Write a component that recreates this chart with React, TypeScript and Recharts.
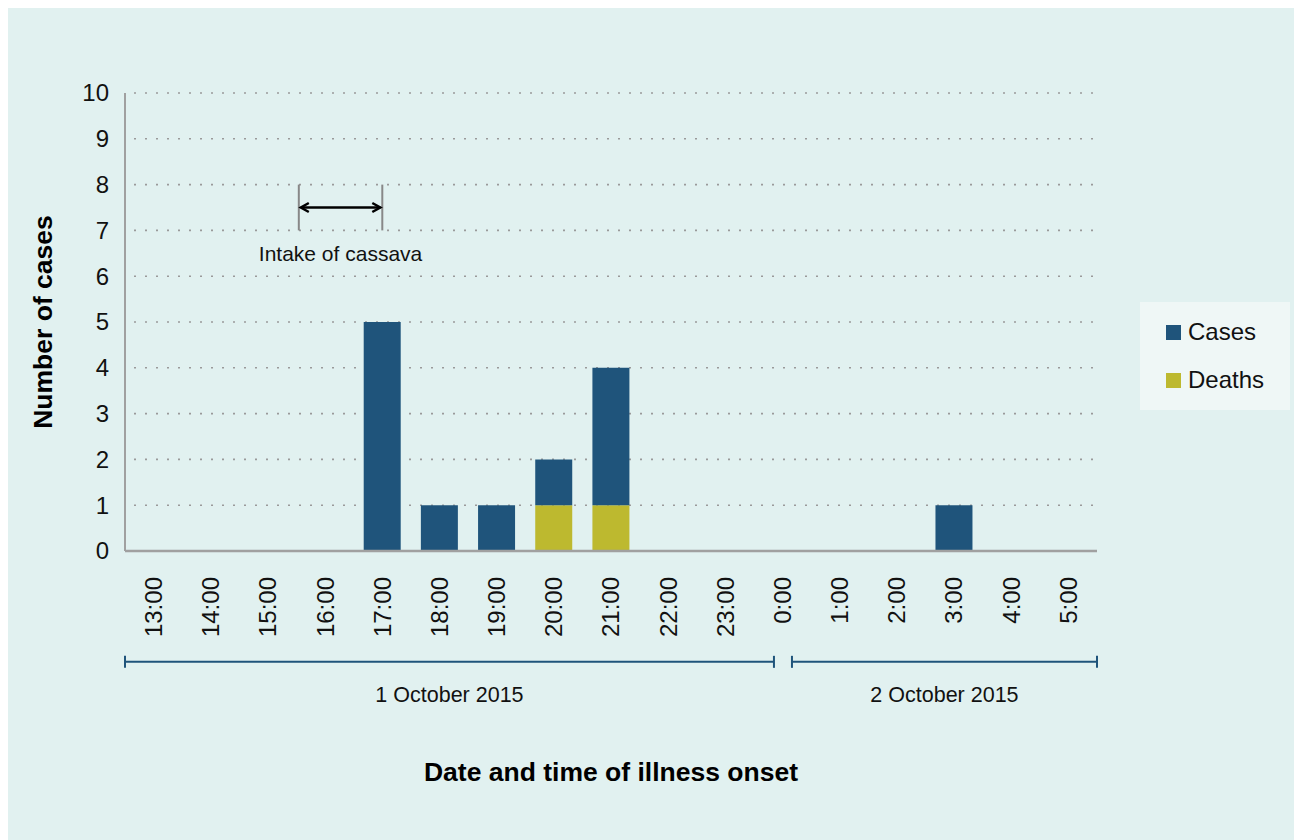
import React from 'react';
import { BarChart, Bar, XAxis, YAxis, CartesianGrid, ReferenceLine, Label } from 'recharts';

// ---- data ----
const hours = ['13:00', '14:00', '15:00', '16:00', '17:00', '18:00', '19:00', '20:00', '21:00', '22:00', '23:00', '0:00', '1:00', '2:00', '3:00', '4:00', '5:00'];
const cases = [0, 0, 0, 0, 5, 1, 1, 2, 4, 0, 0, 0, 0, 0, 1, 0, 0];
const deaths = [0, 0, 0, 0, 0, 0, 0, 1, 1, 0, 0, 0, 0, 0, 0, 0, 0];
const yTicks = [0, 1, 2, 3, 4, 5, 6, 7, 8, 9, 10];

// annotation positions in slot units (x, 0..17 across the hours) and case units (y)
const slotDomain = [0, 17];
const intakeStart = 3.04;
const intakeEnd = 4.5;
const intakeLow = 7;
const intakeHigh = 8;
const intakeArrowY = 7.5;
const intakeLabelY = 6.5;
const intakeLabel = 'Intake of cassava';

const dateLabels = ['1 October 2015', '2 October 2015'];
const dateFrom = [0, 11.665];
const dateTo = [11.35, 17];
const dateLevel = -2.42;

const CASES_COLOR = '#1f547b';
const DEATHS_COLOR = '#bdb92f';
const BG = '#e1f1f0';
const FONT = '"Liberation Sans", Arial, sans-serif';

const data = hours.map((h, i) => ({ hour: h, slot: i + 0.5, deaths: deaths[i], casesOnly: cases[i] - deaths[i] }));

const XTick = (props: any) => {
  const { x, y, payload } = props;
  const ty = y + 26;
  return (
    <text x={x} y={ty} transform={`rotate(-90 ${x} ${ty})`} textAnchor="end" dy="0.35em" fontSize={24} fill="#111" fontFamily={FONT}>
      {payload.value}
    </text>
  );
};

const YTick = (props: any) => {
  const { x, y, payload } = props;
  return (
    <text x={x - 16} y={y} textAnchor="end" dy="0.35em" fontSize={24} fill="#111" fontFamily={FONT}>
      {payload.value}
    </text>
  );
};

const ArrowShape = (p: any) => {
  const { x1, y1, x2 } = p;
  const h = 8;
  const w = 4.5;
  const a = x1 + 2;
  const b = x2 - 2;
  return (
    <g>
      <line x1={a} y1={y1} x2={b} y2={y1} stroke="#000" strokeWidth={2.5} />
      <polyline points={`${a + h},${y1 - w} ${a},${y1} ${a + h},${y1 + w}`} fill="none" stroke="#000" strokeWidth={2.5} />
      <polyline points={`${b - h},${y1 - w} ${b},${y1} ${b - h},${y1 + w}`} fill="none" stroke="#000" strokeWidth={2.5} />
    </g>
  );
};

const makeTextShape = (txt: string, size: number) => (p: any) => {
  const { x1, y1, x2 } = p;
  return (
    <text x={(x1 + x2) / 2} y={y1} textAnchor="middle" dy="0.35em" fontSize={size} fill="#111" fontFamily={FONT}>
      {txt}
    </text>
  );
};

const makeBracketShape = (txt: string) => (p: any) => {
  const { x1, y1, x2 } = p;
  return (
    <g>
      <line x1={x1} y1={y1} x2={x2} y2={y1} stroke={CASES_COLOR} strokeWidth={2} />
      <line x1={x1} y1={y1 - 6} x2={x1} y2={y1 + 6} stroke={CASES_COLOR} strokeWidth={2} />
      <line x1={x2} y1={y1 - 6} x2={x2} y2={y1 + 6} stroke={CASES_COLOR} strokeWidth={2} />
      <text x={(x1 + x2) / 2} y={y1 + 33} textAnchor="middle" dy="0.35em" fontSize={21.5} fill="#111" fontFamily={FONT}>
        {txt}
      </text>
    </g>
  );
};

const XTitle = (props: any) => {
  const vb = props.viewBox || { x: 117, y: 543, width: 972, height: 100 };
  return (
    <text x={vb.x + vb.width / 2} y={vb.y + 221} textAnchor="middle" dy="0.35em" fontSize={26.5} fontWeight="bold" fill="#000" fontFamily={FONT}>
      Date and time of illness onset
    </text>
  );
};

const YTitle = (props: any) => {
  const vb = props.viewBox || { x: 57, y: 85, width: 60, height: 458 };
  const cx = vb.x - 22;
  const cy = vb.y + vb.height / 2;
  return (
    <text x={cx} y={cy} transform={`rotate(-90 ${cx} ${cy})`} textAnchor="middle" dy="0.35em" fontSize={26.5} fontWeight="bold" fill="#000" fontFamily={FONT}>
      Number of cases
    </text>
  );
};

const legendItems = [
  { name: 'Cases', color: CASES_COLOR },
  { name: 'Deaths', color: DEATHS_COLOR },
];

export default function App() {
  return (
    <div style={{ position: 'absolute', left: 8, top: 8, width: 1286, height: 832, background: BG, fontFamily: FONT }}>
      <BarChart width={1286} height={832} data={data} margin={{ top: 85, right: 197, bottom: 189, left: 57 }} barSize={37}>
        <CartesianGrid horizontal vertical={false} stroke="#9a9a9a" strokeWidth={1.6} strokeDasharray="0 9 2 0" />
        <XAxis dataKey="hour" interval={0} tick={<XTick />} tickLine={false} tickSize={0} tickMargin={0} height={100} axisLine={{ stroke: '#a0a0a0', strokeWidth: 2.5 }}>
          <Label content={<XTitle />} />
        </XAxis>
        <XAxis xAxisId="n" dataKey="slot" type="number" domain={slotDomain} allowDataOverflow hide />
        <YAxis domain={[0, 10]} ticks={yTicks} interval={0} width={60} tick={<YTick />} tickLine={false} tickSize={0} tickMargin={0} axisLine={{ stroke: '#a0a0a0', strokeWidth: 2 }}>
          <Label content={<YTitle />} />
        </YAxis>
        <Bar dataKey="deaths" stackId="a" fill={DEATHS_COLOR} isAnimationActive={false} />
        <Bar dataKey="casesOnly" stackId="a" fill={CASES_COLOR} isAnimationActive={false} />

        <ReferenceLine xAxisId="n" ifOverflow="visible" segment={[{ x: intakeStart, y: intakeLow }, { x: intakeStart, y: intakeHigh }]} stroke="#888" strokeWidth={2} />
        <ReferenceLine xAxisId="n" ifOverflow="visible" segment={[{ x: intakeEnd, y: intakeLow }, { x: intakeEnd, y: intakeHigh }]} stroke="#888" strokeWidth={2} />
        <ReferenceLine xAxisId="n" ifOverflow="visible" segment={[{ x: intakeStart, y: intakeArrowY }, { x: intakeEnd, y: intakeArrowY }]} shape={ArrowShape} />
        <ReferenceLine xAxisId="n" ifOverflow="visible" segment={[{ x: intakeStart, y: intakeLabelY }, { x: intakeEnd, y: intakeLabelY }]} shape={makeTextShape(intakeLabel, 21)} />
        {dateLabels.map((lab, i) => (
          <ReferenceLine key={lab} xAxisId="n" ifOverflow="visible" segment={[{ x: dateFrom[i], y: dateLevel }, { x: dateTo[i], y: dateLevel }]} shape={makeBracketShape(lab)} />
        ))}
      </BarChart>
      <div style={{ position: 'absolute', left: 1132, top: 294, width: 150, height: 108, background: '#eff7f6' }}>
        {legendItems.map((it, i) => (
          <div key={it.name} style={{ position: 'absolute', left: 26, top: 22 + i * 48, display: 'flex', alignItems: 'center', height: 16 }}>
            <div style={{ width: 15, height: 15, background: it.color, marginRight: 7 }} />
            <span style={{ fontSize: 24, color: '#111', lineHeight: '16px' }}>{it.name}</span>
          </div>
        ))}
      </div>
    </div>
  );
}
